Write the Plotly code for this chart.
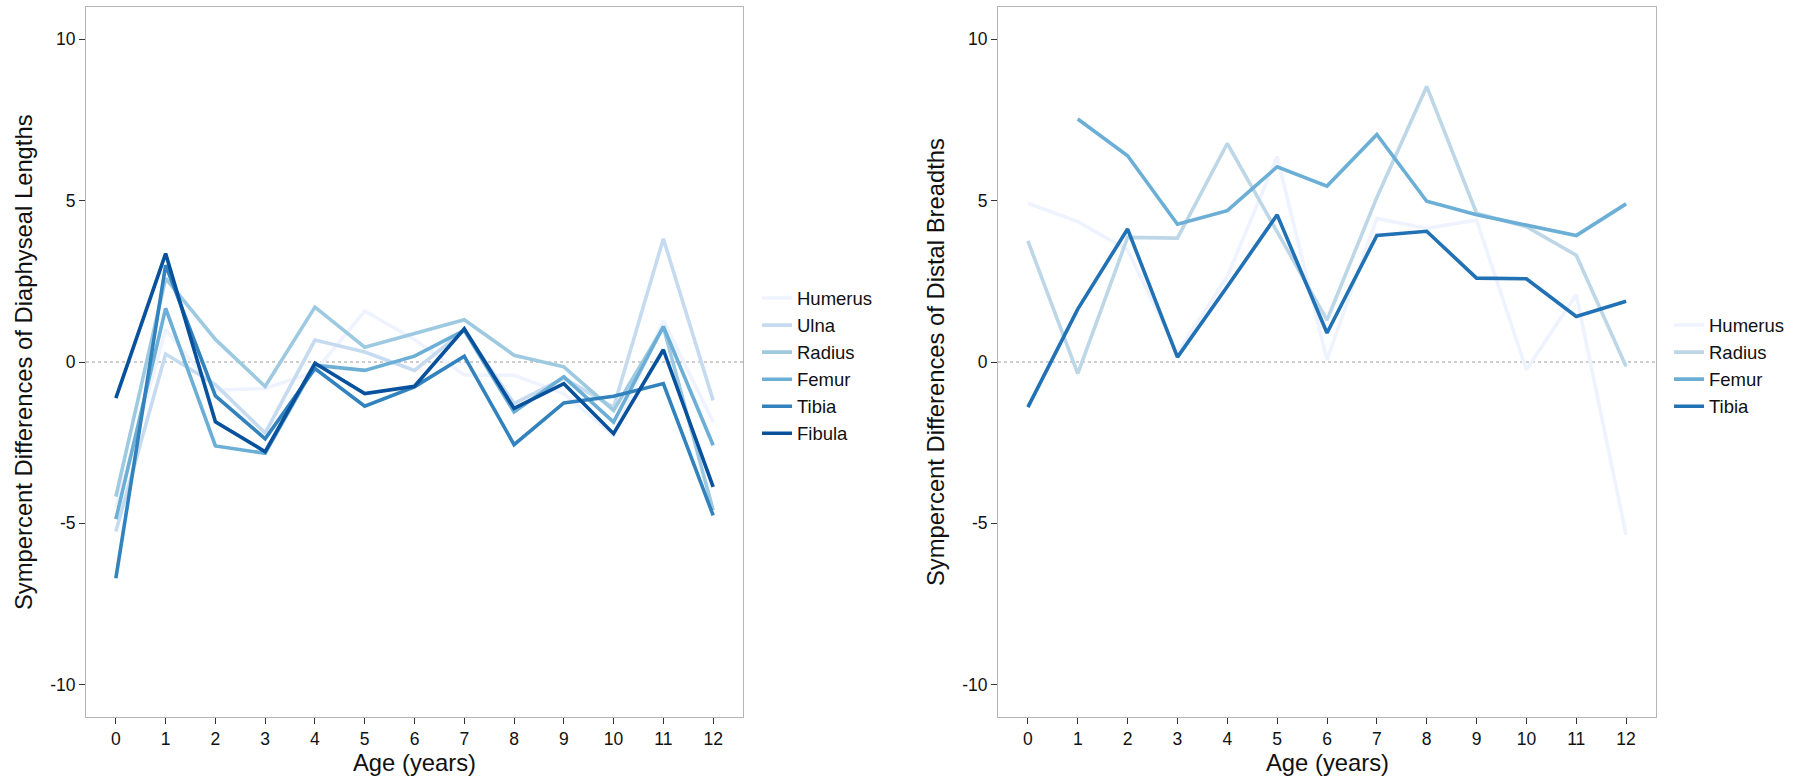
import plotly.graph_objects as go

ages = list(range(13))
x_tick_labels = [str(a) for a in ages]
y_tick_vals = [-10, -5, 0, 5, 10]
y_tick_labels = ["-10", "-5", "0", "5", "10"]

# Left panel: diaphyseal lengths
left_names = ["Humerus", "Ulna", "Radius", "Femur", "Tibia", "Fibula"]
left_humerus = [-4.5, 1.0, -0.87, -0.82, -0.3, 1.58, 0.7, -0.4, -0.41, -0.98, -2.27, 1.29, -1.86]
left_ulna = [-5.25, 0.25, -0.7, -2.2, 0.68, 0.31, -0.26, 0.98, -1.29, -0.5, -1.4, 3.82, -1.19]
left_radius = [-4.17, 2.59, 0.70, -0.76, 1.70, 0.46, 0.88, 1.31, 0.21, -0.15, -1.50, 1.08, -4.59]
left_femur = [-4.87, 1.66, -2.6, -2.83, -0.10, -0.26, 0.18, 0.98, -1.55, -0.46, -1.86, 1.1, -2.58]
left_tibia = [-6.70, 3.0, -1.05, -2.38, -0.2, -1.37, -0.77, 0.18, -2.56, -1.27, -1.06, -0.67, -4.75]
left_fibula = [-1.12, 3.36, -1.85, -2.78, -0.04, -0.98, -0.75, 1.03, -1.44, -0.67, -2.22, 0.38, -3.87]
left_values = [left_humerus, left_ulna, left_radius, left_femur, left_tibia, left_fibula]
left_colors = ["#EFF3FF", "#C6DBEF", "#9ECAE1", "#6BAED6", "#3182BD", "#08519C"]

# Right panel: distal breadths
right_names = ["Humerus", "Radius", "Femur", "Tibia"]
right_humerus = [4.92, 4.35, 3.47, 0.28, 2.65, 6.36, 0.07, 4.45, 4.14, 4.4, -0.24, 2.09, -5.36]
right_radius = [3.75, -0.36, 3.86, 3.84, 6.77, 4.05, 1.3, 5.1, 8.54, 4.61, 4.19, 3.31, -0.14]
right_femur = [None, 7.53, 6.39, 4.27, 4.69, 6.05, 5.45, 7.05, 4.98, 4.56, 4.24, 3.92, 4.90]
right_tibia = [-1.40, 1.64, 4.12, 0.15, 2.34, 4.56, 0.90, 3.92, 4.05, 2.60, 2.58, 1.41, 1.88]
right_values = [right_humerus, right_radius, right_femur, right_tibia]
right_colors = ["#EFF3FF", "#BDD7E7", "#6BAED6", "#2171B5"]

FONT = "Liberation Sans, Arial, Helvetica, sans-serif"
W, H = 1807, 778

fig = go.Figure()
for name, vals, col in zip(left_names, left_values, left_colors):
    fig.add_trace(go.Scatter(x=ages, y=vals, mode="lines", name=name,
                             line=dict(color=col, width=3.6),
                             xaxis="x", yaxis="y", legend="legend"))
for name, vals, col in zip(right_names, right_values, right_colors):
    fig.add_trace(go.Scatter(x=ages, y=vals, mode="lines", name=name,
                             line=dict(color=col, width=3.6),
                             xaxis="x2", yaxis="y2", legend="legend2"))

ydom = [1 - 717 / H, 1 - 7 / H]
xd1 = [86 / W, 743 / W]
xd2 = [998 / W, 1656 / W]

axis_common = dict(showgrid=False, zeroline=False, showline=True, mirror=True,
                   linecolor="#b5b5b5", linewidth=1, ticks="outside", ticklen=6,
                   tickcolor="#333333", tickwidth=1,
                   tickfont=dict(family=FONT, size=17.5, color="#111111"))

fig.update_layout(
    width=W, height=H, margin=dict(l=0, r=0, t=0, b=0),
    paper_bgcolor="white", plot_bgcolor="white",
    font=dict(family=FONT, color="#111111"),
    xaxis=dict(domain=xd1, range=[-0.6, 12.6], tickvals=ages, ticktext=x_tick_labels,
               anchor="y", **axis_common),
    yaxis=dict(domain=ydom, range=[-11, 11], tickvals=y_tick_vals, ticktext=y_tick_labels,
               anchor="x", **axis_common),
    xaxis2=dict(domain=xd2, range=[-0.6, 12.6], tickvals=ages, ticktext=x_tick_labels,
                anchor="y2", **axis_common),
    yaxis2=dict(domain=ydom, range=[-11, 11], tickvals=y_tick_vals, ticktext=y_tick_labels,
                anchor="x2", **axis_common),
    legend=dict(x=757 / W, y=1 - 366 / H, xanchor="left", yanchor="middle",
                font=dict(family=FONT, size=18.5, color="#111111"),
                bgcolor="rgba(0,0,0,0)"),
    legend2=dict(x=1669 / W, y=1 - 366 / H, xanchor="left", yanchor="middle",
                 font=dict(family=FONT, size=18.5, color="#111111"),
                 bgcolor="rgba(0,0,0,0)"),
    showlegend=True,
)

# dotted zero reference lines
for xr, yr in [("x domain", "y"), ("x2 domain", "y2")]:
    fig.add_shape(type="line", xref=xr, yref=yr, x0=0, x1=1, y0=0, y1=0,
                  line=dict(color="#bdbdbd", width=1.4, dash="dot"), layer="below")

# axis titles
title_font = dict(family=FONT, size=23.8, color="#111111")
fig.add_annotation(text="Age (years)", xref="paper", yref="paper",
                   x=(xd1[0] + xd1[1]) / 2, y=1 - 762 / H, showarrow=False,
                   xanchor="center", yanchor="middle", font=title_font)
fig.add_annotation(text="Age (years)", xref="paper", yref="paper",
                   x=(xd2[0] + xd2[1]) / 2, y=1 - 762 / H, showarrow=False,
                   xanchor="center", yanchor="middle", font=title_font)
fig.add_annotation(text="Sympercent Differences of Diaphyseal Lengths", xref="paper", yref="paper",
                   x=23 / W, y=1 - 362 / H, showarrow=False, textangle=-90,
                   xanchor="center", yanchor="middle", font=title_font)
fig.add_annotation(text="Sympercent Differences of Distal Breadths", xref="paper", yref="paper",
                   x=935 / W, y=1 - 362 / H, showarrow=False, textangle=-90,
                   xanchor="center", yanchor="middle", font=title_font)

fig.write_html("out.html")
